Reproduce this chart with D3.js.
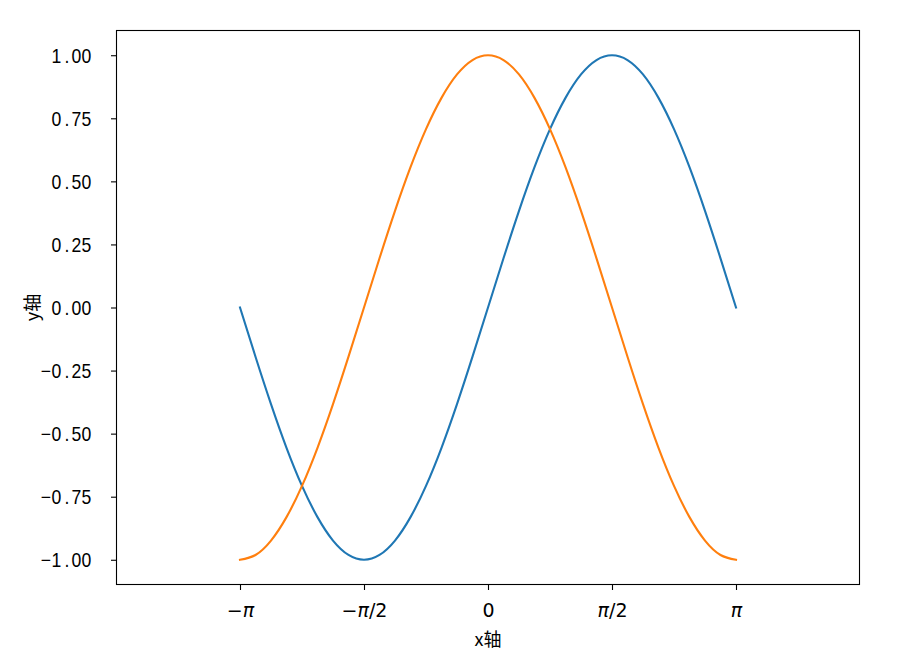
<!DOCTYPE html>
<html>
<head>
<meta charset="utf-8">
<script src="https://cdn.jsdelivr.net/npm/d3@7"></script>
<style>
  html, body { margin: 0; padding: 0; background: #fff; }
  svg { display: block; }
</style>
</head>
<body>
<svg id="chart" width="910" height="655"></svg>
<script>
// x positions in units of π (sampled from -π to π)
const xInPi = [-1, -0.9375, -0.875, -0.8125, -0.75, -0.6875, -0.625, -0.5625, -0.5,
  -0.4375, -0.375, -0.3125, -0.25, -0.1875, -0.125, -0.0625, 0,
  0.0625, 0.125, 0.1875, 0.25, 0.3125, 0.375, 0.4375, 0.5,
  0.5625, 0.625, 0.6875, 0.75, 0.8125, 0.875, 0.9375, 1];
// blue series (sine)
const sinValues = [0, -0.195, -0.383, -0.556, -0.707, -0.831, -0.924, -0.981, -1,
  -0.981, -0.924, -0.831, -0.707, -0.556, -0.383, -0.195, 0,
  0.195, 0.383, 0.556, 0.707, 0.831, 0.924, 0.981, 1,
  0.981, 0.924, 0.831, 0.707, 0.556, 0.383, 0.195, 0];
// orange series (cosine)
const cosValues = [-1, -0.981, -0.924, -0.831, -0.707, -0.556, -0.383, -0.195, 0,
  0.195, 0.383, 0.556, 0.707, 0.831, 0.924, 0.981, 1,
  0.981, 0.924, 0.831, 0.707, 0.556, 0.383, 0.195, 0,
  -0.195, -0.383, -0.556, -0.707, -0.831, -0.924, -0.981, -1];
const xTickPi = [-1, -0.5, 0, 0.5, 1];
const xTickLabels = [["−", "π", ""], ["−", "π", "/2"], ["0", "", ""], ["", "π", "/2"], ["", "π", ""]];
const yTicks = [1, 0.75, 0.5, 0.25, 0, -0.25, -0.5, -0.75, -1];
const yTickLabels = ["1.00", "0.75", "0.50", "0.25", "0.00", "−0.25", "−0.50", "−0.75", "−1.00"];
const xLabel = "x轴";
const yLabel = "y轴";
const seriesColors = ["#1f77b4", "#ff7f0e"];

const svg = d3.select("#chart");
const L = 116, R = 860, T = 30, B = 585;
const PI = Math.PI;
const x = d3.scaleLinear().domain([-1.5 * PI, 1.5 * PI]).range([L, R]);
const y = d3.scaleLinear().domain([-1.1, 1.1]).range([B, T]);

const line = d3.line()
  .x(d => x(d[0] * PI))
  .y(d => y(d[1]))
  .curve(d3.curveNatural);

[sinValues, cosValues].forEach((vals, i) => {
  svg.append("path")
    .datum(xInPi.map((p, j) => [p, vals[j]]))
    .attr("fill", "none")
    .attr("stroke", seriesColors[i])
    .attr("stroke-width", 2.1)
    .attr("stroke-linejoin", "round")
    .attr("stroke-linecap", "square")
    .attr("d", line);
});

// frame
svg.append("rect")
  .attr("x", L + 0.5).attr("y", T + 0.5)
  .attr("width", R - L - 1).attr("height", B - T - 1)
  .attr("fill", "none").attr("stroke", "#000").attr("stroke-width", 1.1);

// x axis
const xAxis = d3.axisBottom(x)
  .tickValues(xTickPi.map(p => p * PI))
  .tickSize(5)
  .tickFormat("");
const gx = svg.append("g").attr("transform", `translate(0,${B})`).call(xAxis);
gx.select(".domain").remove();
gx.selectAll(".tick line").attr("stroke", "#000").attr("stroke-width", 1.1);
gx.selectAll(".tick").each(function(d, i) {
  const parts = xTickLabels[i];
  const t = d3.select(this).append("text")
    .attr("x", 0).attr("y", 32)
    .attr("text-anchor", "middle")
    .attr("fill", "#000")
    .attr("font-family", "DejaVu Sans")
    .attr("font-size", 19);
  if (parts[0]) t.append("tspan").text(parts[0]);
  if (parts[1]) t.append("tspan").attr("font-style", "italic").text(parts[1]);
  if (parts[2]) t.append("tspan").text(parts[2]);
});

// y axis
const yAxis = d3.axisLeft(y).tickValues(yTicks).tickSize(5).tickFormat("");
const gy = svg.append("g").attr("transform", `translate(${L},0)`).call(yAxis);
gy.select(".domain").remove();
gy.selectAll(".tick line").attr("stroke", "#000").attr("stroke-width", 1.1);
const sx = 0.88;
gy.selectAll(".tick").each(function(d, i) {
  const label = yTickLabels[i];
  const chars = Array.from(label);
  const cell = 10;
  const right = -15;
  const t = d3.select(this).append("text")
    .attr("y", 7)
    .attr("transform", `scale(${sx},1)`)
    .attr("fill", "#000")
    .attr("font-family", "Liberation Sans, Arial, sans-serif")
    .attr("font-size", 20);
  chars.forEach((c, k) => {
    const off = c === "." ? -1.5 : (c === "−" ? 0 : 0.3);
    t.append("tspan")
      .attr("x", (right - (chars.length - k) * cell + off) / sx)
      .text(c);
  });
});

// axis labels
svg.append("text")
  .attr("x", x(0)).attr("y", 646)
  .attr("text-anchor", "middle")
  .attr("font-family", "Noto Sans CJK SC")
  .attr("font-size", 18)
  .attr("fill", "#000")
  .text(xLabel);
svg.append("text")
  .attr("transform", `translate(39,${y(0)}) rotate(-90)`)
  .attr("text-anchor", "middle")
  .attr("font-family", "Noto Sans CJK SC")
  .attr("font-size", 18)
  .attr("fill", "#000")
  .text(yLabel);
</script>
</body>
</html>
